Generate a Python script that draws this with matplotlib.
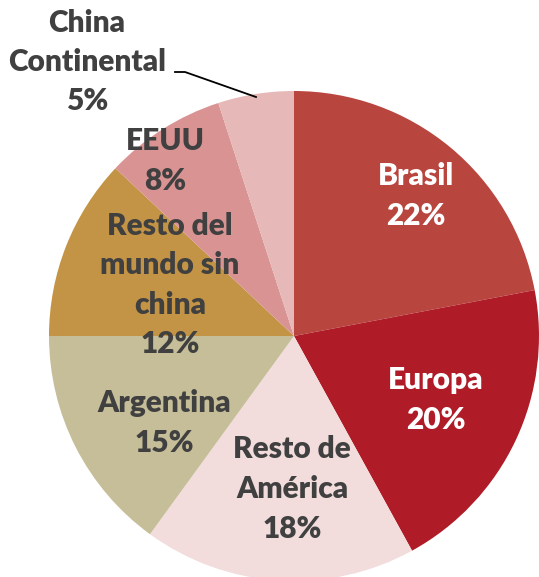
import matplotlib.pyplot as plt

regions = [
    "Brasil",
    "Europa",
    "Resto de\nAmérica",
    "Argentina",
    "Resto del\nmundo sin\nchina",
    "EEUU",
    "China\nContinental",
]
shares = [22, 20, 18, 15, 12, 8, 5]

colors = ["#B9453F", "#AF1C27", "#F2DCDC", "#C6BE98", "#C39446", "#D99393", "#E6B8B7"]
text_colors = ["white", "white", "#404040", "#404040", "#404040", "#404040", "#404040"]
# label centres in pixel coordinates (x right, y down)
label_pos = [(416, 196), (436, 400), (292, 489), (164, 423), (170, 285), (165, 161), (87, 62)]

W, H = 539, 577
fig = plt.figure(figsize=(W / 100, H / 100), dpi=100)
ax = fig.add_axes([0, 0, 1, 1])

cx, cy, r = 294, H - 336, 245
ax.pie(
    shares,
    colors=colors,
    startangle=90,
    counterclock=False,
    center=(cx, cy),
    radius=r,
    frame=True,
    wedgeprops={"linewidth": 0},
)
ax.set_xlim(0, W)
ax.set_ylim(0, H)
ax.set_aspect("equal")
ax.axis("off")

for name, value, (x, y), tc in zip(regions, shares, label_pos, text_colors):
    ax.text(
        x, H - y, f"{name}\n{value}%",
        ha="center", va="center", color=tc,
        fontsize=21.5, fontweight="heavy", family="Lato",
        linespacing=1.5,
    )

# leader line for China Continental
ax.plot([175, 185, 256], [H - 72, H - 72, H - 97], color="black", lw=1.3)

fig.savefig("out.png", dpi=100)
